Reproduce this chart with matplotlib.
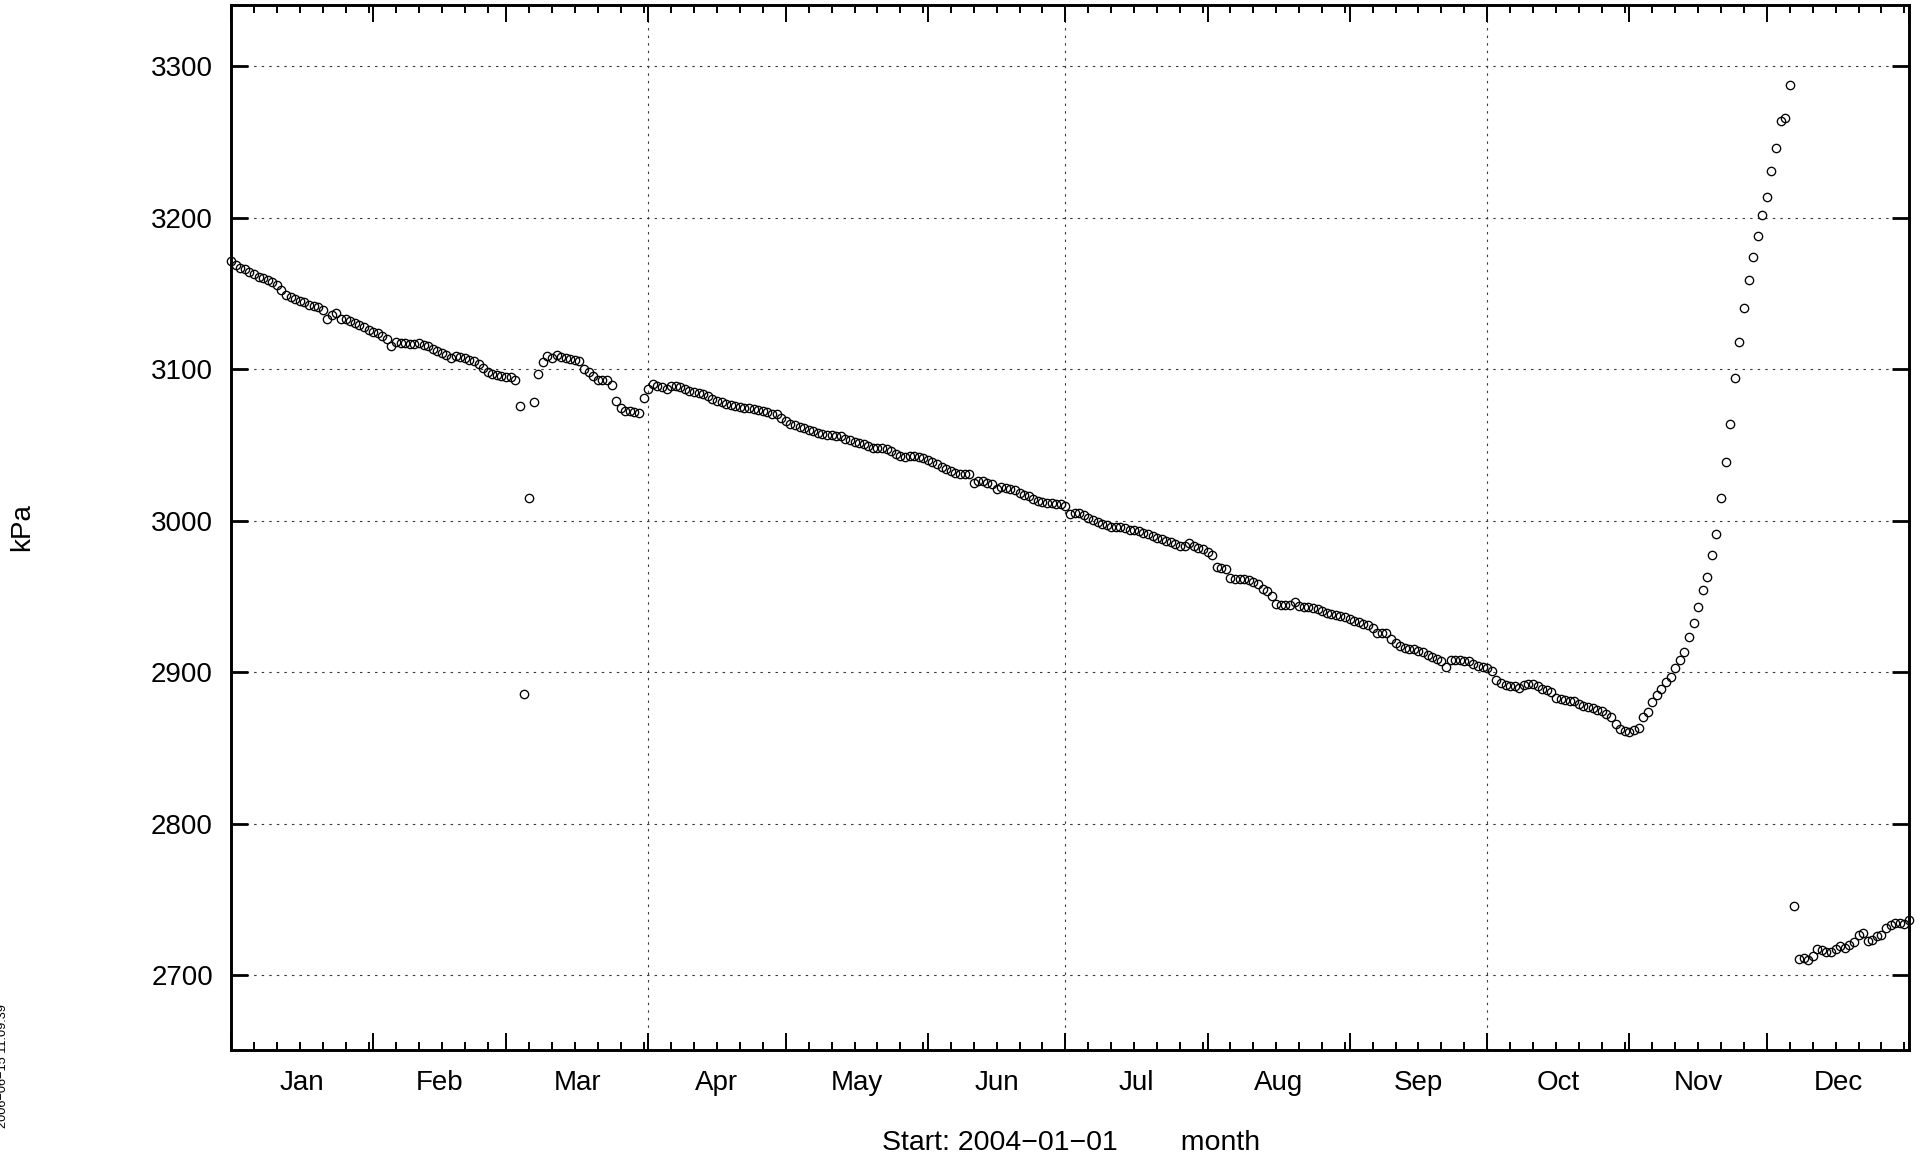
import pandas as pd
import matplotlib.pyplot as plt
import matplotlib.dates as mdates
from matplotlib.ticker import NullFormatter

plt.rcParams['font.family'] = ['Liberation Sans', 'DejaVu Sans']

# daily readings, kPa, starting 2004-01-01
jan = [3171, 3169, 3167, 3166, 3164, 3163, 3161, 3160, 3159, 3157.5, 3155.5, 3152, 3149, 3147.5, 3146, 3145,
       3144.5, 3142, 3141.5, 3141, 3139, 3133, 3135.5, 3137, 3133, 3133, 3132, 3130.5, 3129, 3128, 3126]
feb = [3124.5, 3123.5, 3121.5, 3119.5, 3115, 3118, 3117.5, 3117, 3116.5, 3116.5, 3117, 3116, 3115, 3113.5, 3112,
       3110.5, 3109, 3107.5, 3108.5, 3108, 3107, 3106, 3105, 3103.5, 3100.5, 3098, 3097, 3096, 3095.5]
mar = [3095, 3094.5, 3093, 3075.5, 2885.5, 3015, 3078.5, 3096.5, 3104.5, 3108.5, 3107.5, 3109, 3108, 3107, 3106.5,
       3106, 3105, 3100, 3098, 3095.5, 3093, 3093, 3093, 3089.5, 3079, 3074.5, 3072.5, 3072, 3071.5, 3071, 3081]
apr = [3087, 3090, 3088.5, 3088, 3087, 3088.5, 3088.5, 3088, 3087, 3085.5, 3085, 3084.5, 3083.5, 3082, 3080.5,
       3079, 3078, 3077, 3076.5, 3075.5, 3075, 3074.5, 3074, 3073.5, 3073, 3072.5, 3071.5, 3070.5, 3070, 3068]
may = [3065.5, 3064, 3063, 3062, 3061, 3060, 3059, 3058, 3057, 3056.5, 3056.5, 3056, 3055.5, 3054, 3053, 3052,
       3051.5, 3050.5, 3049.5, 3048, 3048, 3048, 3047.5, 3046, 3044, 3042.5, 3042, 3042.5, 3042.5, 3042, 3041]
jun = [3040, 3038.5, 3037, 3035.5, 3034, 3032.5, 3031.5, 3031, 3031, 3031, 3025, 3026, 3026, 3025, 3024,
       3020.5, 3022, 3021.5, 3021, 3020, 3018.5, 3017, 3016, 3014.5, 3013, 3012, 3011.5, 3011.5, 3011, 3011]
jul = [3009.5, 3004, 3005, 3005, 3003.5, 3002, 3000.5, 2999, 2998, 2997, 2996, 2996, 2995.5, 2995, 2994, 2993.5,
       2993, 2992, 2991, 2990, 2988.5, 2987.5, 2986.5, 2985.5, 2984.5, 2983.5, 2983, 2985, 2983, 2982, 2981]
aug = [2979.5, 2977, 2969.5, 2968.5, 2968, 2962, 2961.5, 2961.5, 2961.5, 2961, 2959.5, 2958, 2955, 2953.5, 2950,
       2945, 2944.5, 2944.5, 2944.5, 2946, 2943.5, 2943, 2943, 2942.5, 2941.5, 2940, 2939, 2938, 2937.5, 2937, 2936]
sep = [2935, 2934, 2933, 2932, 2931, 2929, 2926, 2926, 2926, 2922, 2919, 2917, 2916, 2915.5, 2915, 2914, 2913.5,
       2911, 2910, 2908.5, 2907.5, 2903.5, 2908, 2908, 2908, 2907.5, 2907, 2905, 2904, 2903]
oct_ = [2902.5, 2900.5, 2894.5, 2892.5, 2891.5, 2891, 2890.5, 2889.5, 2891.5, 2892, 2892, 2891, 2889, 2888, 2886.5,
        2883, 2882, 2881.5, 2881, 2881, 2879, 2877.5, 2877, 2876, 2875, 2874, 2872.5, 2870.5, 2866, 2862.5, 2861]
nov = [2860.5, 2861.5, 2863, 2870.5, 2873.5, 2880, 2885, 2888.5, 2893.5, 2897, 2902.5, 2908, 2913, 2923, 2932.5,
       2943, 2954, 2963, 2977, 2991, 3015, 3038.5, 3064, 3094, 3118, 3140.5, 3159, 3174, 3187.5, 3202]
dec = [3213.5, 3230.5, 3246, 3264, 3265.5, 3287.5, 2745.5, 2710.5, 2711.5, 2710, 2712.5, 2717, 2716.5, 2715.5,
       2715, 2717, 2719, 2717.5, 2720, 2722, 2726.5, 2727.5, 2722.5, 2723, 2725.5, 2726.5, 2731, 2733, 2734.5,
       2734.5, 2734]
jan_2005 = [2736]

values = jan + feb + mar + apr + may + jun + jul + aug + sep + oct_ + nov + dec + jan_2005
dates = pd.date_range("2004-01-01", periods=len(values), freq="D")

month_labels = ["Jan", "Feb", "Mar", "Apr", "May", "Jun", "Jul", "Aug", "Sep", "Oct", "Nov", "Dec"]
y_ticks = [2700, 2800, 2900, 3000, 3100, 3200, 3300]
quarter_lines = ["2004-04-01", "2004-07-01", "2004-10-01"]

W, H = 1923, 1168
fig = plt.figure(figsize=(W / 100, H / 100), dpi=100)
ax = fig.add_axes([231 / W, 1 - 1050 / H, (1909 - 231) / W, (1050 - 5) / H])

grid_style = dict(color="#3a3a3a", linewidth=0.8, linestyle=(0, (2.2, 4.6)), zorder=0.5)
for q in quarter_lines:
    ax.axvline(pd.Timestamp(q), **grid_style)
for y in y_ticks:
    ax.axhline(y, **grid_style)

ax.plot(dates, values, linestyle="none", marker="o", ms=6.0, mfc="none", mec="black", mew=0.95,
        clip_on=False, zorder=3)

ax.set_xlim(pd.Timestamp("2004-01-01"), pd.Timestamp("2005-01-01"))
ax.set_ylim(2650.5, 3340.3)

ax.xaxis.set_major_locator(mdates.MonthLocator())
ax.xaxis.set_minor_locator(mdates.DayLocator(bymonthday=[6, 11, 16, 21, 26, 31]))
ax.xaxis.set_major_formatter(NullFormatter())
ax.tick_params(axis="x", which="major", direction="in", length=12, width=1.4, top=True, labelbottom=False)
ax.tick_params(axis="x", which="minor", direction="in", length=6, width=1.4, top=True)

ax.set_yticks(y_ticks)
ax.tick_params(axis="y", direction="in", length=12, width=2, right=True, labelsize=20, pad=13)

for s in ax.spines.values():
    s.set_linewidth(2.1)

for i, lab in enumerate(month_labels):
    start = pd.Timestamp(2004, i + 1, 1)
    mid = start + (start + pd.offsets.MonthBegin(1) - start) / 2
    ax.text(mid, -0.0383, lab, transform=ax.get_xaxis_transform(), ha="center", va="baseline", fontsize=20)

fig.text(22 / W, 1 - 527 / H, "kPa", rotation=90, ha="center", va="center", fontsize=20)
fig.text(1071 / W, 1 - 1143 / H, "Start: 2004\u221201\u221201        month", ha="center", va="center",
         fontsize=20.5)
fig.text(3 / W, 1 - 1066 / H, "2006\u221206\u221215 11:09:39", rotation=90, ha="center", va="center",
         fontsize=9.2)

fig.savefig("out.png", dpi=100)
